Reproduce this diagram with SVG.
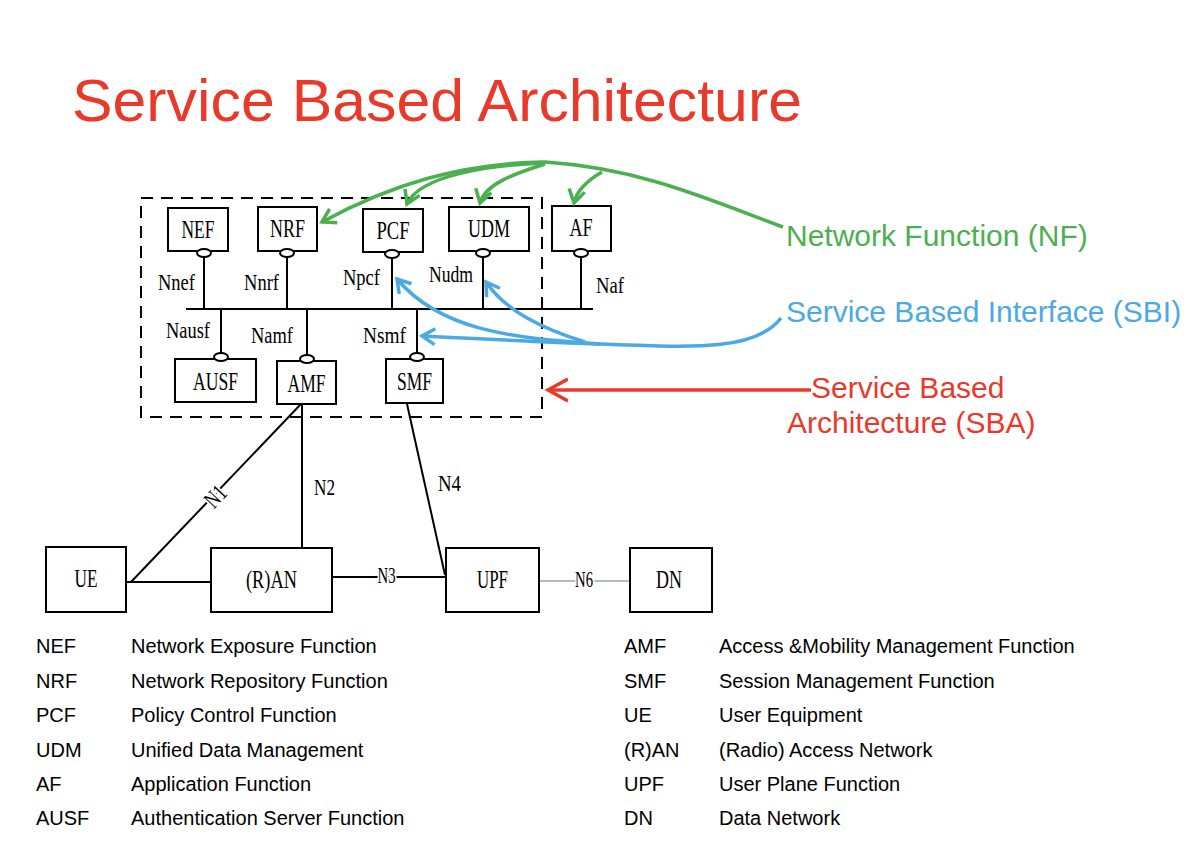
<svg xmlns="http://www.w3.org/2000/svg" width="1200" height="843" viewBox="0 0 1200 843">
<style>
.box{fill:#fff;stroke:#000;stroke-width:2}
.lol{fill:#fff;stroke:#000;stroke-width:2}
.ln{stroke:#000;stroke-width:2;fill:none}
.bl{font-family:"Liberation Serif","Times New Roman",serif;font-size:25px;fill:#000;text-anchor:middle}
.il{font-family:"Liberation Serif","Times New Roman",serif;font-size:24px;fill:#000}
.lg{font-family:"Liberation Sans",Arial,sans-serif;font-size:20px;fill:#000}
.halo{paint-order:stroke;stroke:#fff;stroke-width:5px}
.g{stroke:#4caf50;stroke-width:3.5;fill:none}
.b{stroke:#4ba9e3;stroke-width:3.5;fill:none}
.r{stroke:#e8392b;stroke-width:3.5;fill:none}
</style>
<defs>
<marker id="ag" markerUnits="userSpaceOnUse" markerWidth="30" markerHeight="30" viewBox="-15 -15 30 30" refX="0" refY="0" orient="auto"><path d="M-13,-8 L0,0 L-13,8" fill="none" stroke="#4caf50" stroke-width="3.5"/></marker>
<marker id="ab" markerUnits="userSpaceOnUse" markerWidth="30" markerHeight="30" viewBox="-15 -15 30 30" refX="0" refY="0" orient="auto"><path d="M-13,-8 L0,0 L-13,8" fill="none" stroke="#4ba9e3" stroke-width="3.5"/></marker>
<marker id="ar" markerUnits="userSpaceOnUse" markerWidth="40" markerHeight="40" viewBox="-20 -20 40 40" refX="0" refY="0" orient="auto"><path d="M-20,-11 L0,0 L-20,11" fill="none" stroke="#e8392b" stroke-width="3.5"/></marker>
</defs>
<rect width="1200" height="843" fill="#fff"/>
<text id="title" x="72" y="121" font-family="Liberation Sans,Arial,sans-serif" font-size="59" fill="#e8392b" textLength="730" lengthAdjust="spacingAndGlyphs">Service Based Architecture</text>

<rect id="sba-boundary" x="141" y="198" width="401" height="219" fill="none" stroke="#000" stroke-width="2" stroke-dasharray="12 8"/>

<g id="connectors">
<line class="ln" x1="186" y1="309" x2="593" y2="309" stroke-width="3"/>
<line class="ln" x1="204" y1="256" x2="204" y2="309"/>
<line class="ln" x1="287" y1="256" x2="287" y2="309"/>
<line class="ln" x1="392" y1="257" x2="392" y2="309"/>
<line class="ln" x1="483" y1="256" x2="483" y2="309"/>
<line class="ln" x1="581" y1="256" x2="581" y2="309"/>
<line class="ln" x1="221" y1="309" x2="221" y2="353"/>
<line class="ln" x1="307" y1="309" x2="307" y2="355"/>
<line class="ln" x1="417" y1="309" x2="417" y2="353"/>
<line class="ln" x1="131" y1="582" x2="301" y2="404"/>
<line class="ln" x1="302" y1="404" x2="302" y2="548"/>
<line class="ln" x1="126" y1="582" x2="211" y2="582" stroke-width="2.5"/>
<line class="ln" x1="332" y1="577" x2="446" y2="577" stroke-width="2.5"/>
<line class="ln" x1="407" y1="404" x2="445" y2="575"/>
<line x1="539" y1="581" x2="630" y2="581" stroke="#777" stroke-width="1.2"/>
<text class="il halo" x="0" y="0" font-size="21" text-anchor="middle" transform="translate(216,497) rotate(-47)" dy="7" textLength="21" lengthAdjust="spacingAndGlyphs">N1</text>
<text class="il" x="314" y="495" font-size="21" textLength="21" lengthAdjust="spacingAndGlyphs">N2</text>
<text class="il halo" x="386.5" y="583" font-size="17" text-anchor="middle" textLength="18" lengthAdjust="spacingAndGlyphs">N3</text>
<text class="il" x="438" y="491" font-size="21" textLength="23" lengthAdjust="spacingAndGlyphs">N4</text>
<text class="il halo" x="584" y="587" font-size="17" text-anchor="middle" fill="#666" textLength="18" lengthAdjust="spacingAndGlyphs">N6</text>
<text class="il" x="158" y="290" textLength="37" lengthAdjust="spacingAndGlyphs">Nnef</text>
<text class="il" x="244" y="290" textLength="35" lengthAdjust="spacingAndGlyphs">Nnrf</text>
<text class="il" x="343" y="285" textLength="37" lengthAdjust="spacingAndGlyphs">Npcf</text>
<text class="il" x="429" y="282" textLength="44" lengthAdjust="spacingAndGlyphs">Nudm</text>
<text class="il" x="596" y="293" textLength="28" lengthAdjust="spacingAndGlyphs">Naf</text>
<text class="il" x="166" y="338" textLength="44" lengthAdjust="spacingAndGlyphs">Nausf</text>
<text class="il" x="251" y="343" textLength="42" lengthAdjust="spacingAndGlyphs">Namf</text>
<text class="il" x="363" y="343" textLength="43" lengthAdjust="spacingAndGlyphs">Nsmf</text>
</g>

<g id="NEF"><rect class="box" x="168" y="208" width="60" height="43"/><ellipse class="lol" cx="204" cy="253" rx="7" ry="4"/><text class="bl" x="198" y="238" textLength="33" lengthAdjust="spacingAndGlyphs">NEF</text></g>
<g id="NRF"><rect class="box" x="258" y="207" width="59" height="44"/><ellipse class="lol" cx="287" cy="253" rx="7" ry="4"/><text class="bl" x="287.5" y="237" textLength="35" lengthAdjust="spacingAndGlyphs">NRF</text></g>
<g id="PCF"><rect class="box" x="363" y="209" width="60" height="43"/><ellipse class="lol" cx="392" cy="254" rx="7" ry="4"/><text class="bl" x="393" y="239" textLength="33" lengthAdjust="spacingAndGlyphs">PCF</text></g>
<g id="UDM"><rect class="box" x="449" y="207" width="80" height="44"/><ellipse class="lol" cx="483" cy="253" rx="7" ry="4"/><text class="bl" x="489" y="237" textLength="42" lengthAdjust="spacingAndGlyphs">UDM</text></g>
<g id="AF"><rect class="box" x="552" y="206" width="59" height="45"/><ellipse class="lol" cx="581" cy="253" rx="7" ry="4"/><text class="bl" x="581" y="236" textLength="23" lengthAdjust="spacingAndGlyphs">AF</text></g>
<g id="AUSF"><rect class="box" x="175" y="359" width="81" height="43"/><ellipse class="lol" cx="221" cy="357" rx="7" ry="4"/><text class="bl" x="215.5" y="390" textLength="45" lengthAdjust="spacingAndGlyphs">AUSF</text></g>
<g id="AMF"><rect class="box" x="277" y="361" width="59" height="43"/><ellipse class="lol" cx="307" cy="359" rx="7" ry="4"/><text class="bl" x="306.5" y="392" textLength="38" lengthAdjust="spacingAndGlyphs">AMF</text></g>
<g id="SMF"><rect class="box" x="386" y="359" width="57" height="44"/><ellipse class="lol" cx="417" cy="357" rx="7" ry="4"/><text class="bl" x="414.5" y="390" textLength="35" lengthAdjust="spacingAndGlyphs">SMF</text></g>
<g id="UE"><rect class="box" x="46" y="547" width="80" height="65"/><text class="bl" x="86" y="587" font-size="24" textLength="23" lengthAdjust="spacingAndGlyphs">UE</text></g>
<g id="RAN"><rect class="box" x="211" y="548" width="121" height="64"/><text class="bl" x="271.5" y="588" font-size="24" textLength="51" lengthAdjust="spacingAndGlyphs">(R)AN</text></g>
<g id="UPF"><rect class="box" x="446" y="548" width="93" height="64"/><text class="bl" x="492.5" y="588" font-size="24" textLength="31" lengthAdjust="spacingAndGlyphs">UPF</text></g>
<g id="DN"><rect class="box" x="630" y="548" width="82" height="64"/><text class="bl" x="669" y="588" font-size="24" textLength="26" lengthAdjust="spacingAndGlyphs">DN</text></g>

<g id="annotations">
<path class="g" d="M783,227 C710,200 640,168 545,162 C460,163 390,185 322,222" marker-end="url(#ag)"/>
<path class="g" d="M545,163 C490,165 420,175 407,204" marker-end="url(#ag)"/>
<path class="g" d="M545,164 C510,175 485,185 480,203" marker-end="url(#ag)"/>
<path class="g" d="M602,172 C588,180 577,190 574,203" marker-end="url(#ag)"/>
<path class="b" d="M781,318 C755,352 690,347 600,344 C540,342 480,339 422,336" marker-end="url(#ab)"/>
<path class="b" d="M600,344 C510,338 440,330 397,279" marker-end="url(#ab)"/>
<path class="b" d="M585,342 C540,328 505,310 486,282" marker-end="url(#ab)"/>
<path class="r" d="M811,390 L548,390" marker-end="url(#ar)"/>
<text x="786" y="246" font-family="Liberation Sans,Arial,sans-serif" font-size="30" fill="#4caf50">Network Function (NF)</text>
<text x="786" y="322" font-family="Liberation Sans,Arial,sans-serif" font-size="30" fill="#4ba9e3">Service Based Interface (SBI)</text>
<text x="811" y="398" font-family="Liberation Sans,Arial,sans-serif" font-size="30" fill="#e8392b">Service Based</text>
<text x="787" y="433" font-family="Liberation Sans,Arial,sans-serif" font-size="30" fill="#e8392b">Architecture (SBA)</text>
</g>

<g id="legend">
<text class="lg" x="36" y="653">NEF</text><text class="lg" x="131" y="653">Network Exposure Function</text>
<text class="lg" x="36" y="688">NRF</text><text class="lg" x="131" y="688">Network Repository Function</text>
<text class="lg" x="36" y="722">PCF</text><text class="lg" x="131" y="722">Policy Control Function</text>
<text class="lg" x="36" y="757">UDM</text><text class="lg" x="131" y="757">Unified Data Management</text>
<text class="lg" x="36" y="791">AF</text><text class="lg" x="131" y="791">Application Function</text>
<text class="lg" x="36" y="825">AUSF</text><text class="lg" x="131" y="825">Authentication Server Function</text>
<text class="lg" x="624" y="653">AMF</text><text class="lg" x="719" y="653">Access &amp;Mobility Management Function</text>
<text class="lg" x="624" y="688">SMF</text><text class="lg" x="719" y="688">Session Management Function</text>
<text class="lg" x="624" y="722">UE</text><text class="lg" x="719" y="722">User Equipment</text>
<text class="lg" x="624" y="757">(R)AN</text><text class="lg" x="719" y="757">(Radio) Access Network</text>
<text class="lg" x="624" y="791">UPF</text><text class="lg" x="719" y="791">User Plane Function</text>
<text class="lg" x="624" y="825">DN</text><text class="lg" x="719" y="825">Data Network</text>
</g>
</svg>
